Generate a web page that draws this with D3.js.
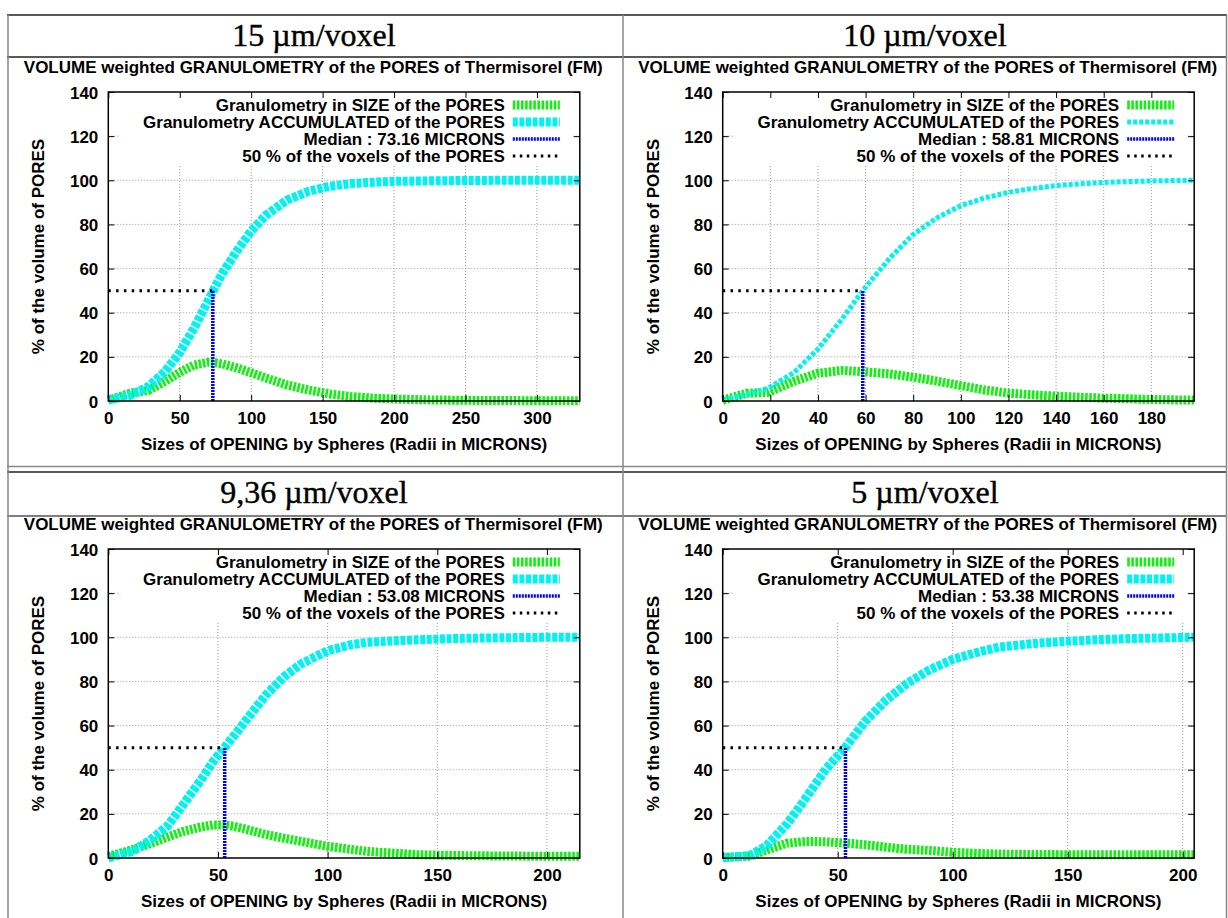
<!DOCTYPE html>
<html>
<head>
<meta charset="utf-8">
<script src="https://cdn.jsdelivr.net/npm/d3@7"></script>
<style>
  html, body { margin: 0; padding: 0; background: #fff; }
  svg { display: block; }
  .sans { font-family: "Liberation Sans", Arial, Helvetica, sans-serif; font-weight: bold; }
  .serif { font-family: "Liberation Serif", "DejaVu Serif", serif; }
</style>
</head>
<body>
<svg id="chart" width="1228" height="918"></svg>
<script>
// ---------------- data ----------------
const panelTitles = ["15 \u00b5m/voxel", "10 \u00b5m/voxel", "9,36 \u00b5m/voxel", "5 \u00b5m/voxel"];
const chartTitle = "VOLUME weighted GRANULOMETRY of the PORES of Thermisorel (FM)";
const xAxisLabel = "Sizes of OPENING by Spheres (Radii in MICRONS)";
const yAxisLabel = "% of the volume of PORES";
const medians = [73.16, 58.81, 53.08, 53.38];
const xMaxes = [330, 198, 215, 205];
const yTicks = [0, 20, 40, 60, 80, 100, 120, 140];
const xTicks15 = [0, 50, 100, 150, 200, 250, 300];
const xTicks10 = [0, 20, 40, 60, 80, 100, 120, 140, 160, 180];
const xTicks936 = [0, 50, 100, 150, 200];
const xTicks5 = [0, 50, 100, 150, 200];

// 15 um/voxel
const radii15 = [0, 15, 28, 40, 50, 60, 70, 75, 80, 90, 100, 110, 125, 140, 155, 170, 185, 200, 225, 250, 280, 310, 330];
const size15  = [0.3, 3.5, 4.8, 9, 13, 16.3, 17.5, 17.3, 16.8, 15.0, 12.8, 10.5, 7.3, 5, 3.2, 2, 1.3, 0.9, 0.5, 0.3, 0.2, 0.1, 0.1];
const accum15 = [0.5, 2.5, 6.5, 13.5, 22, 33, 45.5, 52, 58, 68, 77, 84, 91, 95, 97.3, 98.5, 99.1, 99.5, 99.75, 99.9, 100, 100, 100];

// 10 um/voxel
const radii10 = [0, 10, 19, 30, 40, 50, 59, 70, 80, 90, 100, 110, 120, 130, 140, 150, 160, 170, 180, 190, 198];
const size10  = [0.3, 3.5, 3.9, 9, 12.6, 13.8, 13.3, 12.3, 10.8, 9, 7, 5, 3.6, 2.8, 2.2, 1.7, 1.3, 1, 0.7, 0.5, 0.4];
const accum10 = [0.5, 3, 5.7, 13, 23.5, 37, 50.3, 64.5, 75.5, 83, 88.5, 92, 94.5, 96.3, 97.6, 98.4, 99, 99.4, 99.7, 99.9, 100];

// 9,36 um/voxel
const radii936 = [0, 11, 19, 27, 34, 42, 48, 53, 57, 63, 72, 80, 88, 100, 110, 118, 130, 141, 160, 180, 200, 215];
const size936  = [0.7, 3.8, 6.5, 9.5, 12, 14, 15, 15, 14.4, 13, 10.6, 9, 7.5, 5.3, 4, 3, 2.2, 1.5, 1.1, 0.9, 0.8, 0.8];
const accum936 = [0, 3, 8, 14.5, 24, 35, 44, 50, 55, 62.7, 74, 82, 88, 93.9, 96.5, 97.7, 98.4, 98.9, 99.5, 99.8, 100, 100];

// 5 um/voxel
const radii5 = [0, 12, 19, 28, 34, 39, 45, 53, 62, 71, 80, 90, 100, 110, 120, 135, 150, 165, 180, 195, 205];
const size5  = [0.3, 0.8, 3.6, 6.7, 7.3, 7.5, 7.3, 6.8, 6, 4.9, 4, 3.4, 2.6, 2.1, 1.8, 1.6, 1.5, 1.5, 1.5, 1.5, 1.5];
const accum5 = [0, 1.2, 5.5, 15.5, 24, 31.5, 40.5, 49.7, 62, 71.5, 79, 85.3, 90, 93, 95.5, 97.2, 98.2, 99, 99.5, 99.8, 100];

const panelRadii = [radii15, radii10, radii936, radii5];
const panelSize = [size15, size10, size936, size5];
const panelAccum = [accum15, accum10, accum936, accum5];
const panelXTicks = [xTicks15, xTicks10, xTicks936, xTicks5];

// ---------------- styles / layout ----------------
const style = {
  green: "#11f011", cyan: "#00f2f2", blue: "#0000ff", black: "#000",
  accumWidth: [9, 5, 9, 9],
  accumDash: ["5,1.6", "4,2", "5,1.6", "5,1.6"],
  fs: 17
};
const layout = { left0: 108.3, top0: 92, bottom0: 401, plotW: 471.5, colDx: 614.4, rowDy: 457 };

const svg = d3.select("#chart");

// table borders
const borders = svg.append("g");
const hLines = [[15, "#222"], [57, "#222"], [466.5, "#888"], [472, "#222"], [516, "#555"]];
hLines.forEach(([y, c]) => borders.append("line").attr("x1", 7).attr("x2", 1227).attr("y1", y).attr("y2", y).attr("stroke", c).attr("stroke-width", 1.5));
[[8, 15, 918], [623, 15, 918], [1226.5, 15, 918]].forEach(([x, y1, y2]) =>
  borders.append("line").attr("x1", x).attr("x2", x).attr("y1", y1).attr("y2", y2).attr("stroke", "#888").attr("stroke-width", 1.5));

panelTitles.forEach((t, i) => {
  const col = i % 2, row = Math.floor(i / 2);
  const cx = col === 0 ? 314 : 925;
  svg.append("text").attr("class", "serif").attr("x", cx).attr("y", 46 + row * layout.rowDy)
    .attr("text-anchor", "middle").attr("font-size", 32).attr("fill", "#000")
    .attr("stroke", "#000").attr("stroke-width", 0.4).text(t);
});

function drawPanel(i) {
  const col = i % 2, row = Math.floor(i / 2);
  const L = layout.left0 + col * layout.colDx;
  const R = L + layout.plotW;
  const T = layout.top0 + row * layout.rowDy;
  const B = layout.bottom0 + row * layout.rowDy;
  const x = d3.scaleLinear().domain([0, xMaxes[i]]).range([L, R]);
  const y = d3.scaleLinear().domain([0, 140]).range([B, T]);
  const g = svg.append("g");
  const fs = style.fs;

  // chart title
  g.append("text").attr("class", "sans").attr("x", L + 205).attr("y", T - 19)
    .attr("text-anchor", "middle").attr("font-size", fs).text(chartTitle);

  // grid
  const grid = g.append("g").attr("stroke", "#999").attr("stroke-width", 1).attr("stroke-dasharray", "1,2");
  yTicks.filter(v => v > 0 && v < 140).forEach(v =>
    grid.append("line").attr("x1", L).attr("x2", R).attr("y1", y(v)).attr("y2", y(v)));
  panelXTicks[i].filter(v => v > 0).forEach(v =>
    grid.append("line").attr("x1", x(v)).attr("x2", x(v)).attr("y1", B).attr("y2", T));

  const rad = panelRadii[i];
  const sizePts = rad.map((r, k) => [r, panelSize[i][k]]);
  const accPts = rad.map((r, k) => [r, panelAccum[i][k]]);
  const line = d3.line().x(d => x(d[0])).y(d => y(d[1]));

  g.append("path").attr("d", line(sizePts)).attr("fill", "none").attr("stroke", style.green)
    .attr("stroke-width", 9).attr("stroke-dasharray", "2.6,1.5");
  g.append("path").attr("d", line(accPts)).attr("fill", "none").attr("stroke", style.cyan)
    .attr("stroke-width", style.accumWidth[i]).attr("stroke-dasharray", style.accumDash[i]);
  // median vertical
  g.append("path").attr("d", line([[medians[i], 0], [medians[i], 50]])).attr("fill", "none")
    .attr("stroke", style.blue).attr("stroke-width", 3.5).attr("stroke-dasharray", "2,1");
  // 50% horizontal
  g.append("path").attr("d", line([[0, 50], [medians[i], 50]])).attr("fill", "none")
    .attr("stroke", style.black).attr("stroke-width", 3).attr("stroke-dasharray", "2.5,5.3");

  // key
  g.append("rect").attr("x", L + 12).attr("y", T + 1).attr("width", R - L - 20).attr("height", 71).attr("fill", "#fff");
  const keys = [
    ["Granulometry in SIZE of the PORES", style.green, 9, "2.6,1.5"],
    ["Granulometry ACCUMULATED of the PORES", style.cyan, style.accumWidth[i], style.accumDash[i]],
    ["Median : " + medians[i].toFixed(2) + " MICRONS", style.blue, 3.5, "2,1"],
    ["50 % of the voxels of the PORES", style.black, 3, "2.5,4.5"]
  ];
  keys.forEach((k, j) => {
    const yy = T + 13 + j * 17;
    g.append("text").attr("class", "sans").attr("x", R - 75).attr("y", yy + 6)
      .attr("text-anchor", "end").attr("font-size", fs).text(k[0]);
    g.append("line").attr("x1", R - 67).attr("x2", R - 20).attr("y1", yy).attr("y2", yy)
      .attr("stroke", k[1]).attr("stroke-width", k[2]).attr("stroke-dasharray", k[3]);
  });

  // frame
  g.append("rect").attr("x", L).attr("y", T).attr("width", R - L).attr("height", B - T)
    .attr("fill", "none").attr("stroke", "#000").attr("stroke-width", 1.5);

  // axes (inward ticks, mirrored)
  const axB = g.append("g").attr("transform", `translate(0,${B})`)
    .call(d3.axisTop(x).tickValues(panelXTicks[i]).tickSize(6).tickFormat(""));
  const axT = g.append("g").attr("transform", `translate(0,${T})`)
    .call(d3.axisBottom(x).tickValues(panelXTicks[i]).tickSize(6).tickFormat(""));
  const axL = g.append("g").attr("transform", `translate(${L},0)`)
    .call(d3.axisRight(y).tickValues(yTicks).tickSize(6).tickFormat(""));
  const axR = g.append("g").attr("transform", `translate(${R},0)`)
    .call(d3.axisLeft(y).tickValues(yTicks).tickSize(6).tickFormat(""));
  [axB, axT, axL, axR].forEach(a => { a.select(".domain").remove(); a.selectAll("line").attr("stroke", "#000").attr("stroke-width", 1); });

  // tick labels
  const labX = g.append("g").attr("transform", `translate(0,${B})`)
    .call(d3.axisBottom(x).tickValues(panelXTicks[i]).tickSize(0).tickPadding(0).tickFormat(d3.format("d")));
  labX.select(".domain").remove();
  labX.attr("font-size", null).attr("font-family", null);
  labX.selectAll("text").attr("class", "sans").style("font-size", fs + "px").attr("fill", "#000").attr("dy", null).attr("y", 23);
  const labY = g.append("g").attr("transform", `translate(${L},0)`)
    .call(d3.axisLeft(y).tickValues(yTicks).tickSize(0).tickPadding(0).tickFormat(d3.format("d")));
  labY.select(".domain").remove();
  labY.attr("font-size", null).attr("font-family", null);
  labY.selectAll("text").attr("class", "sans").style("font-size", fs + "px").attr("fill", "#000").attr("dy", null).attr("x", -10).attr("y", 6);

  // axis labels
  g.append("text").attr("class", "sans").attr("x", (L + R) / 2).attr("y", B + 49)
    .attr("text-anchor", "middle").attr("font-size", fs).text(xAxisLabel);
  g.append("text").attr("class", "sans").attr("transform", `translate(${L - 64},${(T + B) / 2}) rotate(-90)`)
    .attr("text-anchor", "middle").attr("font-size", fs).text(yAxisLabel);
}

[0, 1, 2, 3].forEach(drawPanel);
</script>
</body>
</html>
